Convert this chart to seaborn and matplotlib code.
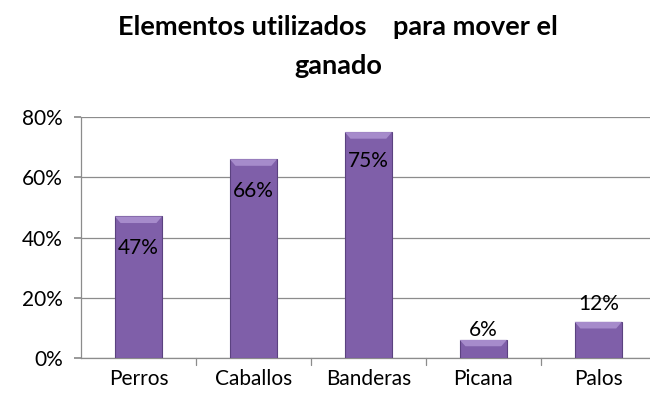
import matplotlib
matplotlib.use("Agg")
import matplotlib.pyplot as plt
import seaborn as sns
import pandas as pd

# Datos del grafico
categorias = ["Perros", "Caballos", "Banderas", "Picana", "Palos"]
porcentajes = [47, 66, 75, 6, 12]
etiquetas = ["47%", "66%", "75%", "6%", "12%"]

df = pd.DataFrame({"Elemento": categorias, "Porcentaje": porcentajes})

sns.set_theme(style="white")
plt.rcParams['font.family'] = ['Lato', 'DejaVu Sans']
plt.rcParams['text.color'] = 'black'
plt.rcParams['xtick.color'] = 'black'
plt.rcParams['ytick.color'] = 'black'

fig = plt.figure(figsize=(6.5, 4.01), dpi=100)
ax = fig.add_axes([81 / 650, 1 - 358 / 401, 569 / 650, 241 / 401])

sns.barplot(data=df, x="Elemento", y="Porcentaje", color="#7F5FA9",
            width=0.41, edgecolor="#5B4280", linewidth=0.8, saturation=1,
            ax=ax, zorder=3)

# lighter cap on top of each bar (bevel look)
for p in ax.patches:
    x0 = p.get_x()
    w = p.get_width()
    h = p.get_height()
    cap = min(2.2, h * 0.35)
    ax.fill([x0, x0 + w, x0 + w * 0.88, x0 + w * 0.12],
            [h, h, h - cap, h - cap], color="#A68BCB", zorder=4, lw=0)

ax.set_xlim(-0.5, 4.45)
ax.set_ylim(0, 80)
ax.set_yticks([0, 20, 40, 60, 80])
ax.set_yticklabels(["0%", "20%", "40%", "60%", "80%"], fontsize=15)
ax.set_xticks(range(len(categorias)))
ax.set_xticklabels(categorias, fontsize=15)
ax.set_xlabel("")
ax.set_ylabel("")

ax.yaxis.grid(True, color="#8C8C8C", linewidth=0.9, zorder=0)
ax.xaxis.grid(False)
for s in ["top", "right"]:
    ax.spines[s].set_visible(False)
for s in ["left", "bottom"]:
    ax.spines[s].set_color("#8C8C8C")
    ax.spines[s].set_linewidth(0.9)

ax.tick_params(axis="y", length=5, color="#8C8C8C", left=True, pad=8)
ax.tick_params(axis="x", length=0, pad=8)
# tick marks between categories
for b in [0.5, 1.5, 2.5, 3.5]:
    ax.plot([b, b], [0, -2.2], color="#8C8C8C", lw=0.9, clip_on=False)

# label offsets (points): inside end for tall bars, outside for short ones
offsets = {0: -23, 1: -23, 2: -21, 3: 7, 4: 13}
for i, (v, t) in enumerate(zip(porcentajes, etiquetas)):
    ax.annotate(t, (i, v), xytext=(0, offsets[i]), textcoords="offset points",
                ha="center", va="center", fontsize=15, zorder=5)

fig.text(0.52, 0.962, "Elementos utilizados    para mover el\nganado",
         ha="center", va="top", fontsize=19.5, fontweight="bold",
         linespacing=1.75)

fig.savefig("out.png", dpi=100)
